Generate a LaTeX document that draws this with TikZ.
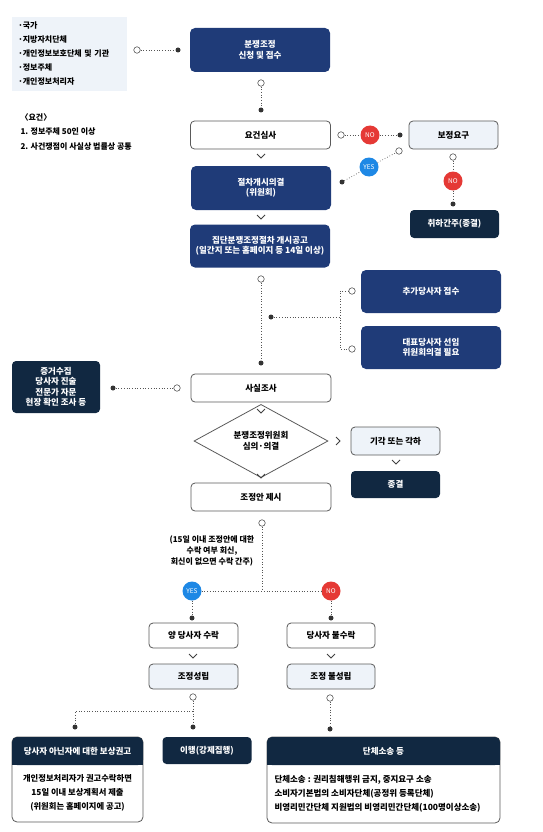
\documentclass[tikz,border=0pt]{standalone}
\usepackage{fontspec}
\setmainfont{Noto Sans CJK KR}
\usetikzlibrary{shapes.geometric}
\definecolor{boxblue}{HTML}{1F3B78}
\definecolor{boxnavy}{HTML}{112841}
\definecolor{paleblue}{HTML}{EEF3F9}
\definecolor{framegray}{HTML}{5A5A5A}
\definecolor{dotgray}{HTML}{555555}
\definecolor{yesblue}{HTML}{1E88E5}
\definecolor{nored}{HTML}{E53935}
\newcommand{\bw}{140pt}
\newcommand{\sw}{89pt}

\begin{document}
\begin{tikzpicture}[x=1pt, y=-1pt, font=\fontsize{8.5}{10.5}\selectfont\bfseries,
    bluebox/.style={rectangle, rounded corners=5pt, fill=boxblue, text=white, align=center, minimum width=\bw, minimum height=44pt, inner sep=1pt},
    navybox/.style={rectangle, rounded corners=4pt, fill=boxnavy, text=white, align=center, minimum width=\sw, minimum height=28pt, inner sep=1pt},
    whitebox/.style={rectangle, rounded corners=4pt, draw=framegray, line width=0.8pt, fill=white, align=center, minimum width=\bw, minimum height=28pt, inner sep=1pt},
    palebox/.style={whitebox, fill=paleblue, minimum width=\sw},
    odot/.style={circle, draw=dotgray, fill=white, line width=0.6pt, minimum size=6.5pt, inner sep=0pt},
    fdot/.style={circle, fill=black!80, minimum size=5pt, inner sep=0pt},
    yesmark/.style={circle, fill=yesblue, text=white, minimum size=19pt, inner sep=0pt, font=\fontsize{6.5}{7}\selectfont},
    nomark/.style={yesmark, fill=nored},
    link/.style={draw=dotgray, dotted, line width=0.7pt},
    chev/.style={draw=black!75, line width=0.9pt}]

    \useasboundingbox (0,0) rectangle (542,832);

    % Left notes
    \node[fill=paleblue, text width=103pt, inner xsep=6pt, minimum height=74pt, align=left, font=\fontsize{8}{14}\selectfont\bfseries] (who) at (69.5,54) {·국가\\·지방자치단체\\·개인정보보호단체 및 기관\\·정보주체\\·개인정보처리자};
    \node[anchor=north west, align=left, font=\fontsize{8}{14.5}\selectfont\bfseries] (req) at (17,110) {〈요건〉\\1. 정보주체 50인 이상\\2. 사건쟁점이 사실상 법률상 공통};

    % Main column
    \node[bluebox] (apply) at (260,50) {분쟁조정\\신청 및 접수};
    \node[whitebox] (review) at (260.5,135) {요건심사};
    \node[bluebox] (start) at (261,188) {절차개시의결\\(위원회)};
    \node[bluebox, minimum height=43pt] (notice) at (260,246) {집단분쟁조정절차 개시공고\\(일간지 또는 홈페이지 등 14일 이상)};
    \node[whitebox] (fact) at (261,388) {사실조사};
    \node[diamond, draw=framegray, line width=0.8pt, fill=white, minimum width=134pt, minimum height=47pt, inner sep=0pt, align=center] (board) at (261,441) {분쟁조정위원회\\심의·의결};
    \node[whitebox] (offer) at (261,497) {조정안 제시};

    % Right column
    \node[palebox] (fix) at (453.5,135) {보정요구};
    \node[navybox] (drop) at (454.5,224) {취하간주(종결)};
    \node[bluebox, minimum height=43pt] (addparty) at (431,291.5) {추가당사자 접수};
    \node[bluebox, minimum height=43pt] (repparty) at (431,347.5) {대표당사자 선임\\위원회의결 필요};
    \node[palebox] (dismiss) at (395.5,441) {기각 또는 각하};
    \node[navybox, minimum height=27pt] (close) at (395.5,484.5) {종결};

    % Evidence
    \node[navybox, minimum width=88pt, minimum height=52pt] (probe) at (56,387) {증거수집\\당사자 진술\\전문가 자문\\현장 확인 조사 등};

    % Answers
    \node[align=center, font=\fontsize{8}{11}\selectfont\bfseries] (reply) at (212,551) {(15일 이내 조정안에 대한\\수락 여부 회신,\\회신이 없으면 수락 간주)};
    \node[whitebox, minimum width=\sw, minimum height=25pt] (bothok) at (193.5,635.5) {양 당사자 수락};
    \node[palebox, minimum height=25pt] (settled) at (193.5,676.5) {조정성립};
    \node[whitebox, minimum width=88pt, minimum height=25pt] (refuse) at (331,635.5) {당사자 불수락};
    \node[palebox, minimum width=88pt, minimum height=25pt] (unsettled) at (331,676.5) {조정 불성립};

    % Bottom row
    \node[draw=framegray, line width=0.8pt, fill=white, rounded corners=5pt, minimum width=131pt, minimum height=85pt] (compframe) at (77.5,779.5) {};
    \fill[boxnavy] ([yshift=-14pt]compframe.north west) rectangle ([yshift=-28pt]compframe.north east);
    \node[fill=boxnavy, text=white, rounded corners=5pt, minimum width=131pt, minimum height=28pt] (comphead) at (77.5,751) {당사자 아닌자에 대한 보상권고};
    \node[align=center, font=\fontsize{8.3}{14}\selectfont\bfseries] (comptext) at (77.5,793) {개인정보처리자가 권고수락하면\\15일 이내 보상계획서 제출\\(위원회는 홈페이지에 공고)};
    \node[navybox, minimum height=27pt] (enforce) at (207,750.5) {이행(강제집행)};
    \node[draw=framegray, line width=0.8pt, fill=white, rounded corners=5pt, minimum width=233pt, minimum height=86pt] (suitframe) at (383.5,780) {};
    \fill[boxnavy] ([yshift=-14pt]suitframe.north west) rectangle ([yshift=-28pt]suitframe.north east);
    \node[fill=boxnavy, text=white, rounded corners=5pt, minimum width=233pt, minimum height=28pt] (suithead) at (383.5,751) {단체소송 등};
    \node[anchor=west, align=left, font=\fontsize{8.5}{14}\selectfont\bfseries] (suittext) at (271,794) {단체소송 : 권리침해행위 금지, 중지요구 소송\\소비자기본법의 소비자단체(공정위 등록단체)\\비영리민간단체 지원법의 비영리민간단체(100명이상소송)};

    % Connectors
    \node[odot] (o1) at (137,50) {};
    \node[fdot] (f1) at (178,50) {};
    \draw[link] (o1) -- (f1);
    \node[odot] (o2) at (261,83) {};
    \node[fdot] (f2) at (261,110) {};
    \draw[link] (o2) -- (f2);
    \node[odot] (o3) at (341,135) {};
    \node[nomark] (no1) at (370,135) {NO};
    \node[fdot] (f3) at (400,135) {};
    \draw[link] (o3) -- (no1) -- (f3);
    \node[fdot] (f4) at (342,182) {};
    \node[yesmark] (yes1) at (369,167) {YES};
    \node[odot] (o4) at (399,151) {};
    \draw[link] (f4) -- (yes1) -- (o4);
    \node[odot] (o5) at (453,157) {};
    \node[nomark] (no2) at (453,181) {NO};
    \node[fdot] (f5) at (453,204) {};
    \draw[link] (o5) -- (no2) -- (f5);
    \node[odot] (o6) at (261,279) {};
    \node[fdot] (f6) at (261,363) {};
    \draw[link] (o6) -- (f6);
    \node[fdot] (f7) at (271,317) {};
    \node[odot] (o7) at (352,291) {};
    \node[odot] (o8) at (352,349) {};
    \coordinate (fork) at (340,317);
    \draw[link] (f7) -- (fork);
    \draw[link] (o7) -| (fork) |- (o8);
    \node[fdot] (f8) at (113,388) {};
    \node[odot] (o9) at (177,388) {};
    \draw[link] (f8) -- (o9);
    \node[odot] (o10) at (262,523) {};
    \coordinate (split) at (262,591);
    \node[yesmark] (yes2) at (192,591) {YES};
    \node[nomark] (no3) at (331,591) {NO};
    \node[fdot] (f9) at (192,618) {};
    \node[fdot] (f10) at (331,618) {};
    \draw[link] (o10) -- (split);
    \draw[link] (yes2) -- (no3);
    \draw[link] (yes2) -- (f9);
    \draw[link] (no3) -- (f10);
    \node[odot] (o11) at (193,697) {};
    \coordinate (split2) at (193,711);
    \node[fdot] (f11) at (75,727) {};
    \node[fdot] (f12) at (193,727) {};
    \draw[link] (o11) -- (split2) -| (f11);
    \draw[link] (split2) -- (f12);
    \node[odot] (o12) at (330,698) {};
    \node[fdot] (f13) at (330,729) {};
    \draw[link] (o12) -- (f13);

    % Chevrons
    \foreach \cx/\cy in {261/156, 261/217, 261/411, 261/476, 396/462, 193/656, 331/656}
        \draw[chev] (\cx-4,\cy-2) -- (\cx,\cy+2) -- (\cx+4,\cy-2);
    \draw[chev] (336,437) -- (340,441) -- (336,445);

\end{tikzpicture}
\end{document}
